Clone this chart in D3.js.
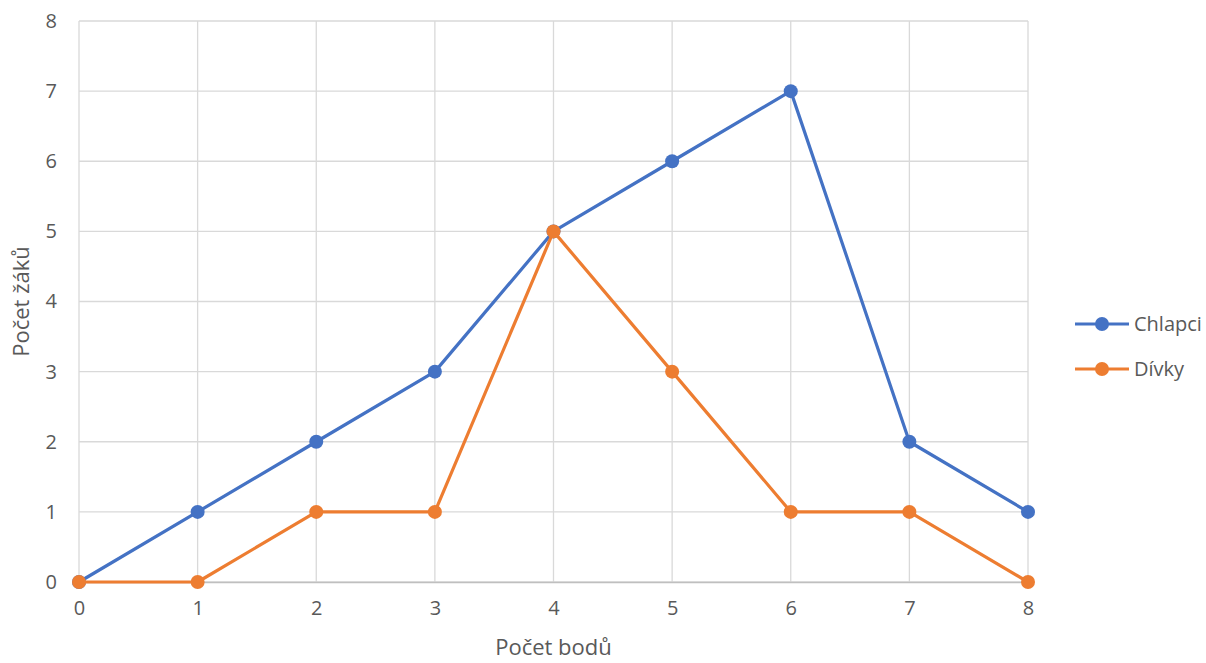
<!DOCTYPE html>
<html>
<head>
<meta charset="utf-8">
<script src="https://cdn.jsdelivr.net/npm/d3@7"></script>
<style>
  body { margin: 0; background: #fff; }
  svg { display: block; font-family: "Open Sans", sans-serif; }
</style>
</head>
<body>
<svg id="chart" width="1206" height="663"></svg>
<script>
const points = [0, 1, 2, 3, 4, 5, 6, 7, 8];
const chlapci = [0, 1, 2, 3, 5, 6, 7, 2, 1];
const divky = [0, 0, 1, 1, 5, 3, 1, 1, 0];
const yTicks = [0, 1, 2, 3, 4, 5, 6, 7, 8];
const seriesNames = ["Chlapci", "Dívky"];
const seriesColors = ["#4472C4", "#ED7D31"];

const FONT = "'Open Sans', sans-serif";
const svg = d3.select("#chart");
const margin = { left: 79, top: 21, right: 178, bottom: 81 };
const W = 1206, H = 663;

const x = d3.scaleLinear().domain([0, 8]).range([margin.left, W - margin.right]);
const y = d3.scaleLinear().domain([0, 8]).range([H - margin.bottom, margin.top]);

// gridlines
const grid = svg.append("g");
grid.selectAll("line.v").data(points).join("line")
  .attr("x1", d => x(d)).attr("x2", d => x(d))
  .attr("y1", y(8)).attr("y2", y(0))
  .attr("stroke", "#d9d9d9").attr("stroke-width", 1.3);
grid.selectAll("line.h").data(yTicks).join("line")
  .attr("x1", x(0)).attr("x2", x(8))
  .attr("y1", d => y(d)).attr("y2", d => y(d))
  .attr("stroke", "#d9d9d9").attr("stroke-width", 1.3);

// axes
const yAxis = svg.append("g").attr("transform", `translate(${x(0)},0)`)
  .call(d3.axisLeft(y).tickValues(yTicks).tickSize(0).tickPadding(22).tickFormat(d3.format("d")));
yAxis.select(".domain").remove();
yAxis.selectAll("text").attr("font-size", 20).attr("fill", "#595959").attr("font-family", FONT);

const xAxis = svg.append("g").attr("transform", `translate(0,${y(0)})`)
  .call(d3.axisBottom(x).tickValues(points).tickSize(0).tickPadding(19).tickFormat(d3.format("d")));
xAxis.select(".domain").attr("stroke", "#bfbfbf").attr("stroke-width", 1.3);
xAxis.selectAll("text").attr("font-size", 20).attr("fill", "#595959").attr("font-family", FONT);

// axis titles
svg.append("text").attr("x", (x(0) + x(8)) / 2).attr("y", 655)
  .attr("text-anchor", "middle").attr("font-size", 22).attr("fill", "#595959")
  .text("Počet bodů");
svg.append("text").attr("transform", `translate(29,${(y(0) + y(8)) / 2}) rotate(-90)`)
  .attr("text-anchor", "middle").attr("font-size", 22).attr("fill", "#595959")
  .text("Počet žáků");

// series lines and markers
const line = d3.line().x((d, i) => x(points[i])).y(d => y(d));
[chlapci, divky].forEach((vals, s) => {
  const g = svg.append("g");
  g.append("path").datum(vals).attr("d", line)
    .attr("fill", "none").attr("stroke", seriesColors[s]).attr("stroke-width", 3.2)
    .attr("stroke-linejoin", "round");
  g.selectAll("circle").data(vals).join("circle")
    .attr("cx", (d, i) => x(points[i])).attr("cy", d => y(d)).attr("r", 7)
    .attr("fill", seriesColors[s]);
});

// legend
const legend = svg.append("g");
seriesNames.forEach((name, s) => {
  const ly = 324 + s * 45;
  legend.append("line").attr("x1", 1075).attr("x2", 1129).attr("y1", ly).attr("y2", ly)
    .attr("stroke", seriesColors[s]).attr("stroke-width", 3.2);
  legend.append("circle").attr("cx", 1102).attr("cy", ly).attr("r", 7).attr("fill", seriesColors[s]);
  legend.append("text").attr("x", 1134).attr("y", ly + 7).attr("font-size", 20)
    .attr("fill", "#595959").text(name);
});
</script>
</body>
</html>
